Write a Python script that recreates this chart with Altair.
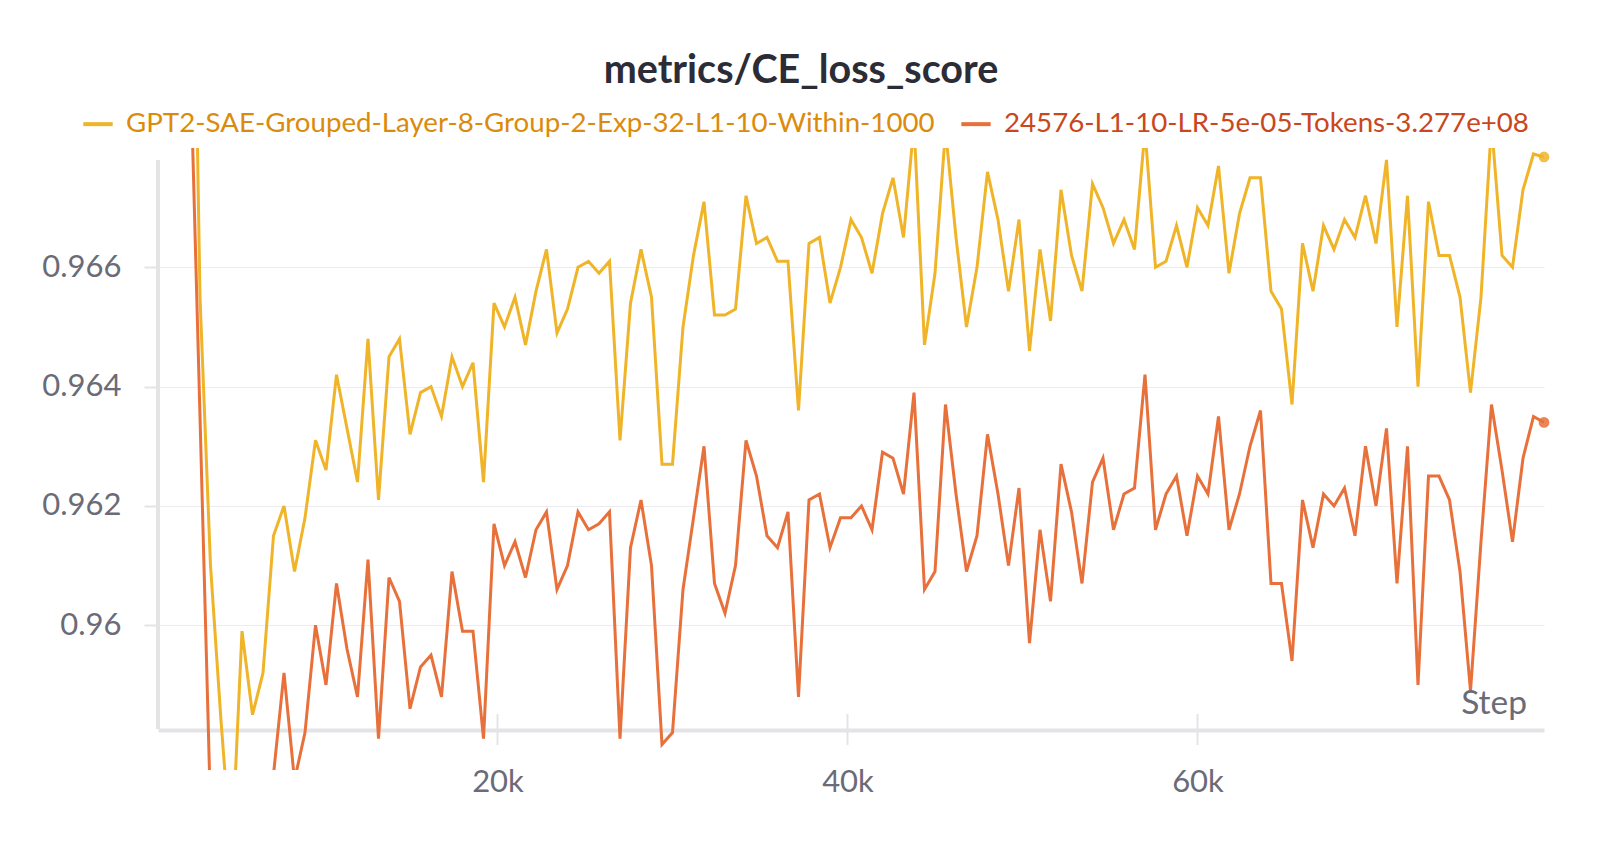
import altair as alt
import pandas as pd

# ---- data ----
series_names = [
    "GPT2-SAE-Grouped-Layer-8-Group-2-Exp-32-L1-10-Within-1000",
    "24576-L1-10-LR-5e-05-Tokens-3.277e+08",
]
series_colors = ["#f0b429", "#e8703a"]
label_colors = ["#db8b0b", "#c9471c"]

steps = list(range(600, 79801, 600))  # logged every 600 steps

gpt2_sae = [
    0.985, 0.982, 0.979, 0.976, 0.9655, 0.9610, 0.9584, 0.9561, 0.9599, 0.9585,
    0.9592, 0.9615, 0.9620, 0.9609, 0.9618, 0.9631, 0.9626, 0.9642, 0.9633, 0.9624,
    0.9648, 0.9621, 0.9645, 0.9648, 0.9632, 0.9639, 0.9640, 0.9635, 0.9645, 0.9640,
    0.9644, 0.9624, 0.9654, 0.9650, 0.9655, 0.9647, 0.9656, 0.9663, 0.9649, 0.9653,
    0.9660, 0.9661, 0.9659, 0.9661, 0.9631, 0.9654, 0.9663, 0.9655, 0.9627, 0.9627,
    0.9650, 0.9662, 0.9671, 0.9652, 0.9652, 0.9653, 0.9672, 0.9664, 0.9665, 0.9661,
    0.9661, 0.9636, 0.9664, 0.9665, 0.9654, 0.9660, 0.9668, 0.9665, 0.9659, 0.9669,
    0.9675, 0.9665, 0.9684, 0.9647, 0.9659, 0.9683, 0.9665, 0.9650, 0.9660, 0.9676,
    0.9668, 0.9656, 0.9668, 0.9646, 0.9663, 0.9651, 0.9673, 0.9662, 0.9656, 0.9674,
    0.9670, 0.9664, 0.9668, 0.9663, 0.9683, 0.9660, 0.9661, 0.9667, 0.9660, 0.9670,
    0.9667, 0.9677, 0.9659, 0.9669, 0.9675, 0.9675, 0.9656, 0.9653, 0.9637, 0.9664,
    0.9656, 0.9667, 0.9663, 0.9668, 0.9665, 0.9672, 0.9664, 0.9678, 0.9650, 0.9672,
    0.9640, 0.9671, 0.9662, 0.9662, 0.9655, 0.9639, 0.9655, 0.9684, 0.9662, 0.9660,
    0.9673, 0.9679, 0.96785,
]

run_24576 = [
    0.984, 0.980, 0.976, 0.970, 0.9635, 0.9569, 0.9562, 0.9558, 0.9560, 0.9565,
    0.9563, 0.9575, 0.9592, 0.9574, 0.9582, 0.9600, 0.9590, 0.9607, 0.9596, 0.9588,
    0.9611, 0.9581, 0.9608, 0.9604, 0.9586, 0.9593, 0.9595, 0.9588, 0.9609, 0.9599,
    0.9599, 0.9581, 0.9617, 0.9610, 0.9614, 0.9608, 0.9616, 0.9619, 0.9606, 0.9610,
    0.9619, 0.9616, 0.9617, 0.9619, 0.9581, 0.9613, 0.9621, 0.9610, 0.9580, 0.9582,
    0.9606, 0.9618, 0.9630, 0.9607, 0.9602, 0.9610, 0.9631, 0.9625, 0.9615, 0.9613,
    0.9619, 0.9588, 0.9621, 0.9622, 0.9613, 0.9618, 0.9618, 0.9620, 0.9616, 0.9629,
    0.9628, 0.9622, 0.9639, 0.9606, 0.9609, 0.9637, 0.9622, 0.9609, 0.9615, 0.9632,
    0.9622, 0.9610, 0.9623, 0.9597, 0.9616, 0.9604, 0.9627, 0.9619, 0.9607, 0.9624,
    0.9628, 0.9616, 0.9622, 0.9623, 0.9642, 0.9616, 0.9622, 0.9625, 0.9615, 0.9625,
    0.9622, 0.9635, 0.9616, 0.9622, 0.9630, 0.9636, 0.9607, 0.9607, 0.9594, 0.9621,
    0.9613, 0.9622, 0.9620, 0.9623, 0.9615, 0.9630, 0.9620, 0.9633, 0.9607, 0.9630,
    0.9590, 0.9625, 0.9625, 0.9621, 0.9609, 0.9589, 0.9614, 0.9637, 0.9626, 0.9614,
    0.9628, 0.9635, 0.9634,
]

y_ticks = [0.96, 0.962, 0.964, 0.966]
x_ticks = [20000, 40000, 60000]
title_text = "metrics/CE_loss_score"
x_label = "Step"

assert len(gpt2_sae) == len(steps) == len(run_24576)

df = pd.concat([
    pd.DataFrame({"step": steps, "value": gpt2_sae, "series": series_names[0]}),
    pd.DataFrame({"step": steps, "value": run_24576, "series": series_names[1]}),
])
last = df[df["step"] == max(steps)]

FONT = "Lato"
AXIS_GRAY = "#e4e4e7"
TEXT_GRAY = "#6b6b78"

x_scale = alt.Scale(domain=[600, 79800], nice=False, zero=False)
y_scale = alt.Scale(domain=[0.957573, 0.968], nice=False, zero=False)

color = alt.Color(
    "series:N",
    scale=alt.Scale(domain=series_names, range=series_colors),
    sort=series_names,
    legend=alt.Legend(
        orient="none", legendX=-77, legendY=-41, direction="horizontal",
        title=None, symbolType="stroke", symbolStrokeWidth=4, symbolSize=864,
        labelFontSize=27.7, labelFont=FONT, labelOffset=11, columnPadding=18,
        labelLimit=0, padding=0,
        labelColor=alt.ExprRef(
            f"datum.label == '{series_names[0]}' ? '{label_colors[0]}' : '{label_colors[1]}'"
        ),
    ),
)

x_enc = alt.X(
    "step:Q", scale=x_scale, title=None,
    axis=alt.Axis(values=x_ticks, format="~s", grid=False, ticks=False,
                  domain=True, domainColor=AXIS_GRAY, domainWidth=4, offset=-40,
                  labelFontSize=31, labelFont=FONT, labelColor=TEXT_GRAY,
                  labelPadding=37),
)
y_enc = alt.Y(
    "value:Q", scale=y_scale, title=None,
    axis=alt.Axis(values=y_ticks, format=".3~f", domain=False, grid=True,
                  gridColor="#ececee", gridWidth=1.2, ticks=True, tickSize=14,
                  tickColor=AXIS_GRAY, tickWidth=2, labelFontSize=31, labelFont=FONT,
                  labelColor=TEXT_GRAY, labelPadding=23),
)

lines = alt.Chart(df).mark_line(strokeWidth=3, clip=True).encode(
    x=x_enc, y=y_enc, color=color, order="step:Q"
)

dots = alt.Chart(last).mark_point(filled=True, size=115, opacity=0.85).encode(
    x=alt.X("step:Q", scale=x_scale),
    y=alt.Y("value:Q", scale=y_scale),
    color=alt.Color("series:N", scale=alt.Scale(domain=series_names, range=series_colors), legend=None),
)

y_axis_line = alt.Chart(pd.DataFrame({"a": [0]})).mark_rule(
    color=AXIS_GRAY, strokeWidth=4
).encode(
    x=alt.datum(600, scale=x_scale),
    y=alt.datum(0.95826, scale=y_scale),
    y2=alt.datum(0.9678),
)

x_tick_marks = alt.Chart(pd.DataFrame({"t": x_ticks})).mark_rule(
    color=AXIS_GRAY, strokeWidth=2
).encode(
    x=alt.X("t:Q", scale=x_scale),
    y=alt.value(566),
    y2=alt.value(597),
)

title = alt.Chart(pd.DataFrame({"t": [title_text]})).mark_text(
    font=FONT, fontSize=39.5, fontWeight="bold", color="#2c2c36",
    align="center", baseline="middle",
).encode(x=alt.value(643), y=alt.value(-77), text="t:N")

step_label = alt.Chart(pd.DataFrame({"t": [x_label]})).mark_text(
    font=FONT, fontSize=33.5, color=TEXT_GRAY, align="right", baseline="middle",
).encode(x=alt.value(1369), y=alt.value(556), text="t:N")

chart = alt.layer(
    y_axis_line, x_tick_marks, lines, dots, step_label, title
).properties(
    width=1386, height=622,
    padding={"left": 150, "top": 140, "right": 40, "bottom": 36},
    autosize="none",
    background="white",
).configure_view(stroke=None)

chart.save("out.html", embed_options={"renderer": "svg", "actions": False})
